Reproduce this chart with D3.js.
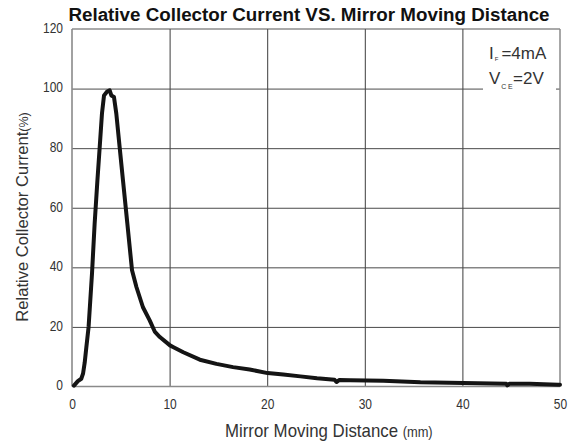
<!DOCTYPE html>
<html>
<head>
<meta charset="utf-8">
<script src="https://cdn.jsdelivr.net/npm/d3@7"></script>
<style>
  html, body { margin: 0; padding: 0; background: #fff; }
  svg { display: block; font-family: "Liberation Sans", Arial, sans-serif; }
</style>
</head>
<body>
<svg id="chart" width="578" height="445"></svg>
<script>
// ---- data ----
const distanceMm = [0.2, 0.6, 0.95, 1.13, 1.3, 1.47, 1.7, 2.05, 2.32, 2.6, 2.84, 3.07, 3.28, 3.6, 3.86, 4.03, 4.3, 4.54, 4.88, 5.23, 5.67, 6.15, 6.6, 7.27, 7.96, 8.5, 9.0, 10.04, 10.4, 11.4, 13.1, 14.8, 16.5, 18.2, 20.05, 21.65, 23.4, 25.1, 26.9, 27.1, 27.4, 28.5, 31.9, 35.7, 40.1, 44.5, 44.6, 44.8, 46.9, 49.8, 50];
const relCurrent = [0.3, 1.8, 2.6, 4.3, 8, 13.2, 20, 38, 54.7, 69, 80.4, 91.6, 97.7, 99, 99.4, 97.7, 97.2, 91.6, 80.4, 69, 54.7, 39, 33.4, 26.6, 22.2, 18.3, 16.6, 13.8, 13.2, 11.5, 9, 7.6, 6.5, 5.7, 4.5, 4.0, 3.4, 2.8, 2.3, 1.5, 2.2, 2.1, 1.9, 1.4, 1.2, 0.9, 0.4, 0.9, 0.9, 0.6, 0.6];
const xTicks = [0, 10, 20, 30, 40, 50];
const yTicks = [0, 20, 40, 60, 80, 100, 120];
const titleText = "Relative Collector Current VS. Mirror Moving Distance";
const xLabel = "Mirror Moving Distance";
const xUnit = "(mm)";
const yLabel = "Relative Collector Current";
const yUnit = "(%)";

// ---- layout ----
const L = 72, R = 560, T = 29, B = 386.5;
const svg = d3.select("#chart");
svg.append("rect").attr("width", 578).attr("height", 445).attr("fill", "#fff");

const x = d3.scaleLinear().domain([0, 50]).range([L, R]);
const y = d3.scaleLinear().domain([0, 120]).range([B, T]);

// grid lines via axes
const gx = svg.append("g").attr("transform", `translate(0,${B})`)
  .call(d3.axisBottom(x).tickValues(xTicks.slice(1, -1)).tickSize(-(B - T)).tickFormat(""));
gx.select(".domain").remove();
gx.selectAll("line").attr("stroke", "#3c3c3c").attr("stroke-width", 1);

const gy = svg.append("g").attr("transform", `translate(${L},0)`)
  .call(d3.axisLeft(y).tickValues(yTicks.slice(1, -1)).tickSize(-(R - L)).tickFormat(""));
gy.select(".domain").remove();
gy.selectAll("line").attr("stroke", "#4a4a4a").attr("stroke-width", 1);

// frame
svg.append("line").attr("x1", L).attr("x2", R).attr("y1", y(120)).attr("y2", y(120)).attr("stroke", "#555").attr("stroke-width", 1.2);
svg.append("line").attr("x1", R).attr("x2", R).attr("y1", y(120)).attr("y2", y(0)).attr("stroke", "#8a8a8a").attr("stroke-width", 1.5);
svg.append("line").attr("x1", L).attr("x2", L).attr("y1", y(120)).attr("y2", y(0)).attr("stroke", "#8a8a8a").attr("stroke-width", 1.6);
svg.append("line").attr("x1", L).attr("x2", R).attr("y1", y(0)).attr("y2", y(0)).attr("stroke", "#8a8a8a").attr("stroke-width", 1.6);

// legend box (white, covers grid)
svg.append("rect").attr("x", 483).attr("y", 31).attr("width", 73).attr("height", 64).attr("fill", "#fff");

// tick labels via axes
const ax = svg.append("g").attr("transform", `translate(0,${B})`)
  .call(d3.axisBottom(x).tickValues(xTicks).tickSize(0).tickFormat(d3.format("d")));
ax.select(".domain").remove();
ax.selectAll("text")
  .attr("y", 0).attr("dy", 0)
  .attr("transform", "translate(0,22.5) scale(0.8,1)")
  .attr("text-anchor", "middle")
  .attr("font-size", 15).attr("fill", "#333");

const ay = svg.append("g").attr("transform", `translate(${L},0)`)
  .call(d3.axisLeft(y).tickValues(yTicks).tickSize(0).tickFormat(d3.format("d")));
ay.select(".domain").remove();
ay.selectAll("text")
  .attr("x", 0).attr("dy", 0).attr("y", 0)
  .attr("transform", "translate(-9,3.3) scale(0.8,1)")
  .attr("text-anchor", "end")
  .attr("font-size", 15).attr("fill", "#333");

// curve
const line = d3.line().x((d, i) => x(distanceMm[i])).y(d => y(d)).curve(d3.curveLinear);
svg.append("path").datum(relCurrent)
  .attr("d", line)
  .attr("fill", "none").attr("stroke", "#141414").attr("stroke-width", 4)
  .attr("stroke-linejoin", "round").attr("stroke-linecap", "round");

// title
svg.append("text").attr("x", 309).attr("y", 20.5).attr("text-anchor", "middle")
  .attr("font-size", 18.8).attr("font-weight", "bold").attr("fill", "#111")
  .text(titleText);

// x label
const xl = svg.append("g").attr("transform", "translate(225,436.5) scale(0.92,1)")
  .append("text").attr("x", 0).attr("y", 0).attr("fill", "#333").attr("font-size", 18.3);
xl.append("tspan").text(xLabel);
xl.append("tspan").attr("font-size", 14).attr("dx", 5).text(xUnit);

// y label
const yl = svg.append("text").attr("transform", "translate(28.3,321.7) rotate(-90)")
  .attr("fill", "#333").attr("font-size", 16.6);
yl.append("tspan").text(yLabel);
yl.append("tspan").attr("font-size", 12.5).text(yUnit);

// legend text
const lg1 = svg.append("text").attr("x", 489).attr("y", 58.5).attr("fill", "#333").attr("font-size", 17);
lg1.append("tspan").text("I");
lg1.append("tspan").attr("font-size", 6).attr("dy", 2.5).attr("dx", 1).text("F");
lg1.append("tspan").attr("dy", -2.5).attr("dx", 3).text("=4mA");

const lg2 = svg.append("text").attr("x", 489).attr("y", 83.5).attr("fill", "#333").attr("font-size", 17);
lg2.append("tspan").text("V");
lg2.append("tspan").attr("font-size", 7).attr("dy", 5).attr("dx", 1).attr("letter-spacing", 1.5).text("CE");
lg2.append("tspan").attr("dy", -5).attr("dx", -1).text("=2V");
</script>
</body>
</html>
